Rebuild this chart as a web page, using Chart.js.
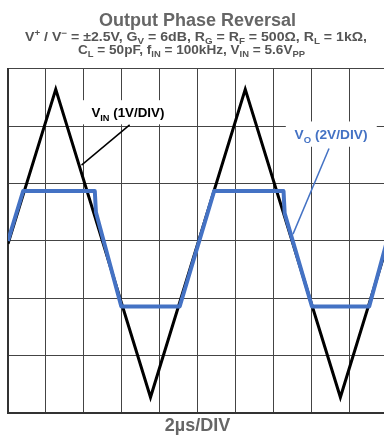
<!DOCTYPE html>
<html>
<head>
<meta charset="utf-8">
<script src="https://cdn.jsdelivr.net/npm/chart.js@4.4.0/dist/chart.umd.min.js"></script>
<style>
  html, body { margin: 0; padding: 0; overflow: hidden; background: #fff; }
  #wrap { position: absolute; left: 0; top: 0; width: 396px; height: 438px; }
</style>
</head>
<body>
<div id="wrap"><canvas id="scope" width="396" height="438"></canvas></div>
<script>
// Temps en µs (2µs/DIV) et amplitudes en divisions d'écran
const vinTime = [0, 2.52, 7.52, 12.52, 17.54, 20];
const vinDiv  = [-0.05, 2.64, -2.72, 2.64, -2.72, -0.08];

const voTime = [0, 0.8, 4.58, 4.64, 5.98, 9.06, 10.88, 14.54, 14.6, 16.04, 19.06, 20];
const voDiv  = [0, 0.87, 0.87, 0.5, -1.14, -1.14, 0.87, 0.87, 0.48, -1.14, -1.14, 0];

const xMin = 0, xMax = 20, xStep = 2;
const yMin = -3, yMax = 3, yStep = 1;

const titre = 'Output Phase Reversal';
const titreAxeX = '2µs/DIV';

// Lignes du sous-titre : [texte, 'sub' | 'sup' | '']
const sousTitre1 = [['V', ''], ['+', 'sup'], [' / V', ''], ['−', 'sup'], [' = ±2.5V, G', ''], ['V', 'sub'],
  [' = 6dB, R', ''], ['G', 'sub'], [' = R', ''], ['F', 'sub'], [' = 500Ω, R', ''], ['L', 'sub'], [' = 1kΩ,', '']];
const sousTitre2 = [['C', ''], ['L', 'sub'], [' = 50pF, f', ''], ['IN', 'sub'], [' = 100kHz, V', ''], ['IN', 'sub'],
  [' = 5.6V', ''], ['PP', 'sub']];

const labelVin = [['V', ''], ['IN', 'sub'], [' (1V/DIV)', '']];
const labelVo  = [['V', ''], ['O', 'sub'], [' (2V/DIV)', '']];

const NOIR = '#000000';
const BLEU = '#4472c4';
const POLICE = '"Liberation Sans", Arial, sans-serif';

// Texte avec indices / exposants ; largeurCible étire horizontalement si donnée
function dessinerTexte(ctx, segments, x, y, taille, couleur, align, largeurCible) {
  const petit = Math.round(taille * 0.7);
  let largeur = 0;
  segments.forEach(s => {
    ctx.font = 'bold ' + (s[1] ? petit : taille) + 'px ' + POLICE;
    largeur += ctx.measureText(s[0]).width;
  });
  const k = largeurCible ? largeurCible / largeur : 1;
  ctx.save();
  ctx.translate(align === 'center' ? x - largeur * k / 2 : x, y);
  ctx.scale(k, 1);
  let cx = 0;
  ctx.fillStyle = couleur;
  ctx.textBaseline = 'alphabetic';
  ctx.textAlign = 'left';
  segments.forEach(s => {
    ctx.font = 'bold ' + (s[1] ? petit : taille) + 'px ' + POLICE;
    let dy = 0;
    if (s[1] === 'sub') dy = taille * 0.25;
    if (s[1] === 'sup') dy = -taille * 0.35;
    ctx.fillText(s[0], cx, dy);
    cx += ctx.measureText(s[0]).width;
  });
  ctx.restore();
}

const annotations = {
  id: 'annotations',
  beforeDatasetsDraw(chart) {
    const ctx = chart.ctx, xs = chart.scales.x, ys = chart.scales.y;
    ctx.save();
    ctx.fillStyle = '#ffffff';
    // fonds blancs derrière les étiquettes
    let x1 = xs.getPixelForValue(3.92), x2 = xs.getPixelForValue(8.52);
    let y1 = ys.getPixelForValue(2.45), y2 = ys.getPixelForValue(2.03);
    ctx.fillRect(x1, y1, x2 - x1, y2 - y1);
    x1 = xs.getPixelForValue(14.66); x2 = xs.getPixelForValue(19.46);
    y1 = ys.getPixelForValue(2.08); y2 = ys.getPixelForValue(1.64);
    ctx.fillRect(x1, y1, x2 - x1, y2 - y1);
    ctx.restore();
  },
  afterDatasetsDraw(chart) {
    const ctx = chart.ctx, xs = chart.scales.x, ys = chart.scales.y;
    ctx.save();
    ctx.lineWidth = 1.5;
    ctx.strokeStyle = NOIR;
    ctx.beginPath();
    ctx.moveTo(xs.getPixelForValue(6.42), ys.getPixelForValue(2.02));
    ctx.lineTo(xs.getPixelForValue(3.88), ys.getPixelForValue(1.32));
    ctx.stroke();
    ctx.strokeStyle = BLEU;
    ctx.beginPath();
    ctx.moveTo(xs.getPixelForValue(16.94), ys.getPixelForValue(1.61));
    ctx.lineTo(xs.getPixelForValue(15.04), ys.getPixelForValue(0.12));
    ctx.stroke();
    dessinerTexte(ctx, labelVin, xs.getPixelForValue(4.4), ys.getPixelForValue(2.15), 13, NOIR, 'left', 73);
    dessinerTexte(ctx, labelVo, xs.getPixelForValue(15.12), ys.getPixelForValue(1.77), 13, BLEU, 'left', 73);
    ctx.restore();
  },
  afterDraw(chart) {
    const ctx = chart.ctx;
    dessinerTexte(ctx, sousTitre1, 196, 41, 13, '#555555', 'center', 342);
    dessinerTexte(ctx, sousTitre2, 191.5, 54, 13, '#555555', 'center', 227);
  }
};

const ctx = document.getElementById('scope').getContext('2d');
new Chart(ctx, {
  type: 'scatter',
  data: {
    datasets: [
      {
        label: 'VO (2V/DIV)',
        data: voTime.map((t, i) => ({ x: t, y: voDiv[i] })),
        showLine: true,
        borderColor: BLEU,
        borderWidth: 4,
        borderJoinStyle: 'round',
        pointRadius: 0,
        tension: 0
      },
      {
        label: 'VIN (1V/DIV)',
        data: vinTime.map((t, i) => ({ x: t, y: vinDiv[i] })),
        showLine: true,
        borderColor: NOIR,
        borderWidth: 3,
        pointRadius: 0,
        tension: 0
      }
    ]
  },
  options: {
    responsive: false,
    animation: false,
    layout: { padding: { left: 8, right: 9, top: 0, bottom: 0 } },
    plugins: {
      legend: { display: false },
      tooltip: { enabled: false },
      title: {
        display: true,
        text: titre,
        color: '#666666',
        font: { family: POLICE, size: 18, weight: 'bold' },
        padding: { top: 10, bottom: 37 }
      }
    },
    scales: {
      x: {
        type: 'linear',
        min: xMin,
        max: xMax,
        ticks: { display: false, stepSize: xStep },
        grid: { color: '#444444', lineWidth: 1, drawTicks: false },
        border: { color: '#333333', width: 2 },
        title: {
          display: true,
          text: titreAxeX,
          color: '#666666',
          font: { family: POLICE, size: 18, weight: 'bold' },
          padding: { top: 2, bottom: 1 }
        }
      },
      y: {
        min: yMin,
        max: yMax,
        ticks: { display: false, stepSize: yStep },
        grid: { color: '#444444', lineWidth: 1, drawTicks: false },
        border: { color: '#333333', width: 2 }
      }
    }
  },
  plugins: [annotations]
});
</script>
</body>
</html>
